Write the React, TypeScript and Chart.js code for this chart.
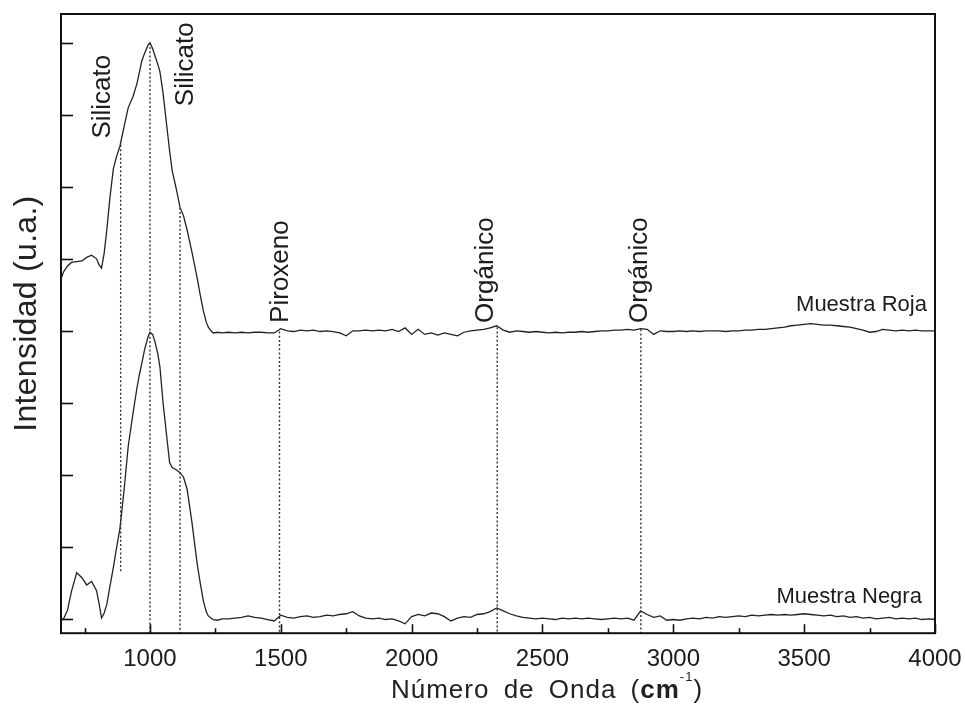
import React, { useEffect, useRef } from 'react';
import { Chart, registerables } from 'chart.js';

Chart.register(...registerables);

const FONT = '"Liberation Sans", Arial, Helvetica, sans-serif';
const INK = '#1c1c1c';

// Wave numbers (cm-1): dense around the silicate band, then every 25 cm-1
const waveNumbers = [
  660, 670, 685, 700, 720,
  740, 758, 777, 796, 805,
  815, 825, 835, 847, 860,
  872, 885, 900, 917, 935,
  950, 960, 969, 980, 993,
  1000, 1010, 1019, 1030, 1038,
  1050, 1065, 1075, 1085, 1100,
  1115, 1128, 1142, 1160, 1181,
  1192, 1204, 1215, 1223, 1233,
  1242, 1258, 1275,
  1300, 1325, 1350, 1375, 1400, 1425, 1450, 1475, 1500, 1525,
  1550, 1575, 1600, 1625, 1650, 1675, 1700, 1725, 1750, 1775,
  1800, 1825, 1850, 1875, 1900, 1925, 1950, 1975, 2000, 2025,
  2050, 2075, 2100, 2125, 2150, 2175, 2200, 2225, 2250, 2275,
  2300, 2325, 2350, 2375, 2400, 2425, 2450, 2475, 2500, 2525,
  2550, 2575, 2600, 2625, 2650, 2675, 2700, 2725, 2750, 2775,
  2800, 2825, 2850, 2875, 2900, 2925, 2950, 2975, 3000, 3025,
  3050, 3075, 3100, 3125, 3150, 3175, 3200, 3225, 3250, 3275,
  3300, 3325, 3350, 3375, 3400, 3425, 3450, 3475, 3500, 3525,
  3550, 3575, 3600, 3625, 3650, 3675, 3700, 3725, 3750, 3775,
  3800, 3825, 3850, 3875, 3900, 3925, 3950, 3975, 4000,
];

// Muestra Roja (offset by 4 units)
const muestraRoja = [
  4.72, 4.82, 4.90, 4.95, 4.96,
  4.97, 5.02, 5.05, 5.00, 4.92,
  4.87, 5.08, 5.40, 5.85, 6.25,
  6.42, 6.56, 6.82, 7.10, 7.25,
  7.43, 7.60, 7.75, 7.86, 7.97,
  8.00, 7.92, 7.82, 7.70, 7.60,
  7.30, 6.82, 6.50, 6.22, 5.98,
  5.71, 5.60, 5.40, 5.10, 4.72,
  4.50, 4.28, 4.12, 4.05, 4.00,
  3.97, 3.98, 3.97,
  3.98, 3.97, 3.98, 3.97, 3.98, 3.98, 3.97, 3.97, 4.03, 4.00,
  3.99, 4.01, 4.00, 4.01, 3.99, 4.00, 3.99, 3.97, 3.93, 4.00,
  4.00, 4.01, 4.00, 4.01, 4.00, 4.02, 3.99, 4.04, 3.95, 4.02,
  3.95, 3.97, 3.94, 3.97, 3.95, 3.93, 3.98, 4.00, 4.01, 4.02,
  4.04, 4.07, 4.01, 3.98, 4.00, 3.99, 3.98, 3.99, 3.98, 3.97,
  3.98, 3.97, 3.98, 3.98, 3.99, 3.98, 3.99, 4.00, 4.00, 4.01,
  4.01, 4.02, 4.01, 4.03, 4.02, 3.95, 4.00, 3.99, 3.99, 4.00,
  3.99, 4.00, 3.99, 4.00, 4.00, 4.00, 3.99, 4.00, 4.00, 4.01,
  4.01, 4.02, 4.02, 4.03, 4.04, 4.05, 4.07, 4.08, 4.09, 4.10,
  4.09, 4.08, 4.08, 4.07, 4.06, 4.05, 4.03, 4.01, 3.98, 3.99,
  4.02, 4.01, 4.00, 4.01, 4.00, 4.01, 4.00, 4.00, 4.00,
];

// Muestra Negra
const muestraNegra = [
  -0.02, 0.00, 0.12, 0.38, 0.64,
  0.57, 0.47, 0.52, 0.39, 0.22,
  0.01, 0.08, 0.20, 0.45, 0.71,
  0.98, 1.25, 1.75, 2.40, 2.85,
  3.20, 3.40, 3.55, 3.75, 3.92,
  3.98, 3.95, 3.85, 3.68, 3.50,
  3.00, 2.50, 2.17, 2.10, 2.07,
  2.03, 1.97, 1.80, 1.35, 0.75,
  0.50, 0.25, 0.10, 0.04, 0.01,
  -0.01, -0.02, 0.00,
  0.00, 0.01, 0.02, 0.04, 0.02, 0.01, -0.01, -0.03, 0.05, 0.02,
  0.01, 0.03, 0.04, 0.02, 0.03, 0.05, 0.04, 0.06, 0.07, 0.10,
  0.04, 0.01, 0.00, 0.01, -0.01, 0.00, -0.03, -0.07, 0.03, 0.06,
  0.04, 0.08, 0.07, 0.03, -0.03, 0.01, 0.03, 0.02, 0.06, 0.07,
  0.10, 0.15, 0.11, 0.07, 0.04, 0.02, 0.01, 0.00, 0.01, 0.00,
  -0.01, 0.01, 0.00, 0.01, 0.00, 0.01, 0.00, -0.01, 0.00, 0.01,
  0.00, 0.01, -0.02, 0.11, 0.06, 0.02, 0.04, -0.02, -0.01, -0.02,
  0.00, 0.01, 0.00, 0.02, 0.01, 0.03, 0.02, 0.03, 0.04, 0.03,
  0.05, 0.04, 0.05, 0.06, 0.05, 0.06, 0.05, 0.06, 0.07, 0.06,
  0.05, 0.04, 0.05, 0.03, 0.04, 0.02, 0.03, 0.01, 0.02, 0.00,
  0.01, 0.02, 0.00, 0.01, 0.00, 0.01, -0.01, 0.00, -0.01,
];

// Dotted band markers
const markerWn = [888, 1000, 1115, 1495, 2327, 2876];
const markerTop = [6.58, 8.0, 5.71, 3.99, 4.05, 4.02];
const markerBottom = [0.63, -0.2, -0.2, -0.2, -0.2, -0.2];

// Band annotations (rotated text, anchored at text start / baseline)
const bandLabels = ['Silicato', 'Silicato', 'Piroxeno', 'Orgánico', 'Orgánico'];
const bandLabelWn = [847, 1164, 1527, 2311, 2899];
const bandLabelY = [6.67, 7.12, 4.11, 4.11, 4.11];

// Series names
const seriesNames = ['Muestra Roja', 'Muestra Negra'];
const seriesNameWn = [3969, 3950];
const seriesNameY = [4.28, 0.22];

// Axes
const xMin = 660;
const xMax = 4000;
const yMin = -0.2;
const yMax = 8.4;
const xTitle = ['Número de Onda (', 'cm', '-1', ')'];
const yTitle = 'Intensidad (u.a.)';

const series = (ys: number[]) => waveNumbers.map((x, i) => ({ x, y: ys[i] }));

const overlay = {
  id: 'overlay',
  afterDraw(chart: any) {
    const { ctx, chartArea: a, scales } = chart;
    const xs = scales.x;
    const ys = scales.y;
    ctx.save();
    ctx.strokeStyle = '#111';
    ctx.lineWidth = 1.6;
    // inward ticks
    xs.ticks.forEach((t: any) => {
      const px = Math.round(xs.getPixelForValue(t.value)) + 0.5;
      const len = t.value % 500 === 0 ? 9 : 5;
      ctx.beginPath();
      ctx.moveTo(px, a.bottom);
      ctx.lineTo(px, a.bottom - len);
      ctx.stroke();
    });
    ys.ticks.forEach((t: any) => {
      const py = Math.round(ys.getPixelForValue(t.value)) + 0.5;
      ctx.beginPath();
      ctx.moveTo(a.left, py);
      ctx.lineTo(a.left + 12, py);
      ctx.stroke();
    });
    // frame
    ctx.lineWidth = 2;
    ctx.strokeRect(a.left, a.top, a.right - a.left, a.bottom - a.top);

    ctx.fillStyle = INK;
    // band labels
    ctx.font = `26px ${FONT}`;
    bandLabels.forEach((txt, i) => {
      ctx.save();
      ctx.translate(xs.getPixelForValue(bandLabelWn[i]), ys.getPixelForValue(bandLabelY[i]));
      ctx.rotate(-Math.PI / 2);
      ctx.textAlign = 'left';
      ctx.textBaseline = 'alphabetic';
      ctx.fillText(txt, 0, 0);
      ctx.restore();
    });
    // series names
    ctx.font = `22px ${FONT}`;
    ctx.textAlign = 'right';
    ctx.textBaseline = 'alphabetic';
    seriesNames.forEach((txt, i) => {
      ctx.fillText(txt, xs.getPixelForValue(seriesNameWn[i]), ys.getPixelForValue(seriesNameY[i]));
    });

    // y title
    ctx.save();
    ctx.translate(a.left - 34, (a.top + a.bottom) / 2 - 10);
    ctx.rotate(-Math.PI / 2);
    ctx.font = `32px ${FONT}`;
    (ctx as any).letterSpacing = '0.3px';
    ctx.textAlign = 'center';
    ctx.textBaseline = 'middle';
    ctx.fillStyle = '#222';
    ctx.fillText(yTitle, 0, 0);
    ctx.restore();

    // x title with bold cm and superscript
    ctx.save();
    ctx.fillStyle = '#222';
    ctx.textAlign = 'left';
    ctx.textBaseline = 'alphabetic';
    (ctx as any).letterSpacing = '1px';
    (ctx as any).wordSpacing = '6px';
    const fonts = [`26px ${FONT}`, `bold 26px ${FONT}`, `13px ${FONT}`, `26px ${FONT}`];
    const rise = [0, 0, 17, 0];
    const widths = xTitle.map((s, i) => { ctx.font = fonts[i]; return ctx.measureText(s).width; });
    const total = widths.reduce((p, c) => p + c, 0);
    let cx = (a.left + a.right) / 2 + 49 - total / 2;
    const base = a.bottom + 65;
    xTitle.forEach((s, i) => {
      ctx.font = fonts[i];
      ctx.fillText(s, cx, base - rise[i]);
      cx += widths[i];
    });
    ctx.restore();

    ctx.restore();
  },
};

export default function App() {
  const ref = useRef<HTMLCanvasElement | null>(null);
  useEffect(() => {
    if (!ref.current) return;
    const markerSets = markerWn.map((wn, i) => ({
      label: 'm' + i,
      data: [{ x: wn, y: markerTop[i] }, { x: wn, y: markerBottom[i] }],
      borderColor: '#333',
      borderWidth: 1.4,
      borderDash: [2, 2.2],
      pointRadius: 0,
      fill: false,
    }));
    const chart = new Chart(ref.current, {
      type: 'line',
      data: {
        datasets: [
          ...markerSets,
          {
            label: seriesNames[0],
            data: series(muestraRoja),
            borderColor: '#222',
            borderWidth: 1.3,
            pointRadius: 0,
            tension: 0,
            fill: false,
          },
          {
            label: seriesNames[1],
            data: series(muestraNegra),
            borderColor: '#222',
            borderWidth: 1.3,
            pointRadius: 0,
            tension: 0,
            fill: false,
          },
        ],
      },
      options: {
        animation: false,
        responsive: false,
        devicePixelRatio: 1,
        layout: { padding: { left: 61, right: 30, top: 14, bottom: 23 } },
        plugins: { legend: { display: false }, tooltip: { enabled: false } },
        scales: {
          x: {
            type: 'linear',
            min: xMin,
            max: xMax,
            grid: { display: false, drawTicks: false },
            border: { display: false },
            afterFit: (s: any) => { s.paddingLeft = 0; s.paddingRight = 0; },
            ticks: {
              stepSize: 250,
              maxTicksLimit: 20,
              autoSkip: false,
              includeBounds: false,
              maxRotation: 0,
              padding: 12,
              color: INK,
              font: { size: 24, family: FONT },
              callback: (v: any) => (Number(v) % 500 === 0 ? String(v) : ''),
            },
          },
          y: {
            type: 'linear',
            min: yMin,
            max: yMax,
            grid: { display: false, drawTicks: false },
            border: { display: false },
            ticks: { display: false, stepSize: 1, includeBounds: false },
          },
        },
      },
      plugins: [overlay],
    } as any);
    return () => chart.destroy();
  }, []);
  return (
    <div style={{ position: 'fixed', left: 0, top: 0, width: 965, height: 709, background: '#fff' }}>
      <canvas ref={ref} width={965} height={709} style={{ display: 'block' }} />
    </div>
  );
}
